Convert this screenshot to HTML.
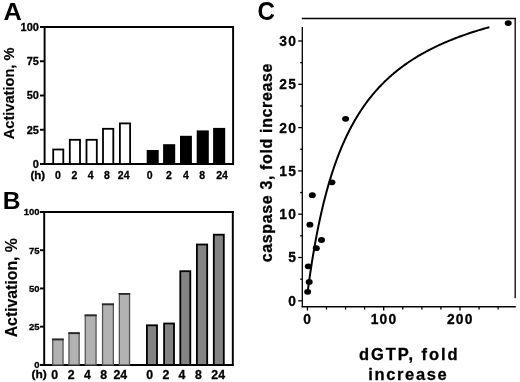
<!DOCTYPE html>
<html><head><meta charset="utf-8"><style>html,body{margin:0;padding:0;background:#fff;font-family:"Liberation Sans",sans-serif;width:520px;height:382px;overflow:hidden}svg{display:block;will-change:transform}</style></head>
<body><svg width="520" height="382" viewBox="0 0 520 382"><text transform="translate(3.50,19.60) scale(1.03,1.0)" font-family="Liberation Sans" font-weight="bold" stroke="#000" stroke-width="0" font-size="24.6" text-anchor="start" >A</text>
<line x1="40.00" y1="27.00" x2="234.00" y2="27.00" stroke="#000" stroke-width="1.95"/>
<line x1="44.60" y1="26.10" x2="44.60" y2="164.90" stroke="#000" stroke-width="1.95"/>
<line x1="233.10" y1="26.10" x2="233.10" y2="164.90" stroke="#000" stroke-width="1.95"/>
<line x1="40.00" y1="164.00" x2="234.00" y2="164.00" stroke="#000" stroke-width="1.95"/>
<line x1="40.00" y1="164.00" x2="44.60" y2="164.00" stroke="#000" stroke-width="1.95"/>
<text x="38.90" y="167.90" font-family="Liberation Sans" font-weight="bold" stroke="#000" stroke-width="0.3" font-size="11" text-anchor="end" >0</text>
<line x1="40.00" y1="129.75" x2="44.60" y2="129.75" stroke="#000" stroke-width="1.95"/>
<text x="38.90" y="133.65" font-family="Liberation Sans" font-weight="bold" stroke="#000" stroke-width="0.3" font-size="11" text-anchor="end" >25</text>
<line x1="40.00" y1="95.50" x2="44.60" y2="95.50" stroke="#000" stroke-width="1.95"/>
<text x="38.90" y="99.40" font-family="Liberation Sans" font-weight="bold" stroke="#000" stroke-width="0.3" font-size="11" text-anchor="end" >50</text>
<line x1="40.00" y1="61.25" x2="44.60" y2="61.25" stroke="#000" stroke-width="1.95"/>
<text x="38.90" y="65.15" font-family="Liberation Sans" font-weight="bold" stroke="#000" stroke-width="0.3" font-size="11" text-anchor="end" >75</text>
<line x1="40.00" y1="27.00" x2="44.60" y2="27.00" stroke="#000" stroke-width="1.95"/>
<text x="38.90" y="30.90" font-family="Liberation Sans" font-weight="bold" stroke="#000" stroke-width="0.3" font-size="11" text-anchor="end" >100</text>
<rect x="53.20" y="149.50" width="10.10" height="14.50" fill="#fff" stroke="#000" stroke-width="1.8"/>
<rect x="69.80" y="139.80" width="10.20" height="24.20" fill="#fff" stroke="#000" stroke-width="1.8"/>
<rect x="86.50" y="139.80" width="10.30" height="24.20" fill="#fff" stroke="#000" stroke-width="1.8"/>
<rect x="103.00" y="128.80" width="10.30" height="35.20" fill="#fff" stroke="#000" stroke-width="1.8"/>
<rect x="119.90" y="123.40" width="10.20" height="40.60" fill="#fff" stroke="#000" stroke-width="1.8"/>
<rect x="146.7" y="150.0" width="12.00" height="14.00" fill="#000"/>
<rect x="163.1" y="144.2" width="12.10" height="19.80" fill="#000"/>
<rect x="180.0" y="135.8" width="11.90" height="28.20" fill="#000"/>
<rect x="196.7" y="130.4" width="12.10" height="33.60" fill="#000"/>
<rect x="213.1" y="127.9" width="12.10" height="36.10" fill="#000"/>
<text transform="translate(30.50,178.90) scale(1.15,1.0)" font-family="Liberation Sans" font-weight="bold" stroke="#000" stroke-width="0.3" font-size="10" text-anchor="start" >(h)</text>
<text x="57.80" y="179.00" font-family="Liberation Sans" font-weight="bold" stroke="#000" stroke-width="0.3" font-size="10.5" text-anchor="middle" >0</text>
<text x="74.50" y="179.00" font-family="Liberation Sans" font-weight="bold" stroke="#000" stroke-width="0.3" font-size="10.5" text-anchor="middle" >2</text>
<text x="90.70" y="179.00" font-family="Liberation Sans" font-weight="bold" stroke="#000" stroke-width="0.3" font-size="10.5" text-anchor="middle" >4</text>
<text x="106.90" y="179.00" font-family="Liberation Sans" font-weight="bold" stroke="#000" stroke-width="0.3" font-size="10.5" text-anchor="middle" >8</text>
<text x="123.70" y="179.00" font-family="Liberation Sans" font-weight="bold" stroke="#000" stroke-width="0.3" font-size="10.5" text-anchor="middle" >24</text>
<text x="149.60" y="179.00" font-family="Liberation Sans" font-weight="bold" stroke="#000" stroke-width="0.3" font-size="10.5" text-anchor="middle" >0</text>
<text x="169.00" y="179.00" font-family="Liberation Sans" font-weight="bold" stroke="#000" stroke-width="0.3" font-size="10.5" text-anchor="middle" >2</text>
<text x="185.80" y="179.00" font-family="Liberation Sans" font-weight="bold" stroke="#000" stroke-width="0.3" font-size="10.5" text-anchor="middle" >4</text>
<text x="202.20" y="179.00" font-family="Liberation Sans" font-weight="bold" stroke="#000" stroke-width="0.3" font-size="10.5" text-anchor="middle" >8</text>
<text x="222.00" y="179.00" font-family="Liberation Sans" font-weight="bold" stroke="#000" stroke-width="0.3" font-size="10.5" text-anchor="middle" >24</text>
<text transform="translate(2.70,209.20) scale(1.0,1.0)" font-family="Liberation Sans" font-weight="bold" stroke="#000" stroke-width="0" font-size="24.6" text-anchor="start" >B</text>
<line x1="40.00" y1="212.00" x2="233.70" y2="212.00" stroke="#000" stroke-width="1.95"/>
<line x1="44.20" y1="211.10" x2="44.20" y2="365.80" stroke="#000" stroke-width="1.95"/>
<line x1="232.80" y1="211.10" x2="232.80" y2="365.80" stroke="#000" stroke-width="1.95"/>
<line x1="40.00" y1="364.90" x2="233.70" y2="364.90" stroke="#000" stroke-width="1.95"/>
<line x1="40.00" y1="364.90" x2="44.20" y2="364.90" stroke="#000" stroke-width="1.95"/>
<text x="39.60" y="368.20" font-family="Liberation Sans" font-weight="bold" stroke="#000" stroke-width="0.3" font-size="9.5" text-anchor="end" >0</text>
<line x1="40.00" y1="326.67" x2="44.20" y2="326.67" stroke="#000" stroke-width="1.95"/>
<text x="39.60" y="329.97" font-family="Liberation Sans" font-weight="bold" stroke="#000" stroke-width="0.3" font-size="9.5" text-anchor="end" >25</text>
<line x1="40.00" y1="288.45" x2="44.20" y2="288.45" stroke="#000" stroke-width="1.95"/>
<text x="39.60" y="291.75" font-family="Liberation Sans" font-weight="bold" stroke="#000" stroke-width="0.3" font-size="9.5" text-anchor="end" >50</text>
<line x1="40.00" y1="250.22" x2="44.20" y2="250.22" stroke="#000" stroke-width="1.95"/>
<text x="39.60" y="253.53" font-family="Liberation Sans" font-weight="bold" stroke="#000" stroke-width="0.3" font-size="9.5" text-anchor="end" >75</text>
<line x1="40.00" y1="212.00" x2="44.20" y2="212.00" stroke="#000" stroke-width="1.95"/>
<text x="39.60" y="215.30" font-family="Liberation Sans" font-weight="bold" stroke="#000" stroke-width="0.3" font-size="9.5" text-anchor="end" >100</text>
<rect x="52.75" y="339.25" width="10.30" height="25.65" fill="#b2b2b2" stroke="#555" stroke-width="1.3"/>
<line x1="52.10" y1="339.50" x2="63.70" y2="339.50" stroke="#2a2a2a" stroke-width="1.8"/>
<rect x="68.95" y="332.95" width="10.20" height="31.95" fill="#b2b2b2" stroke="#555" stroke-width="1.3"/>
<line x1="68.30" y1="333.20" x2="79.80" y2="333.20" stroke="#2a2a2a" stroke-width="1.8"/>
<rect x="85.25" y="315.15" width="10.80" height="49.75" fill="#b2b2b2" stroke="#555" stroke-width="1.3"/>
<line x1="84.60" y1="315.40" x2="96.70" y2="315.40" stroke="#2a2a2a" stroke-width="1.8"/>
<rect x="102.55" y="304.15" width="10.80" height="60.75" fill="#b2b2b2" stroke="#555" stroke-width="1.3"/>
<line x1="101.90" y1="304.40" x2="114.00" y2="304.40" stroke="#2a2a2a" stroke-width="1.8"/>
<rect x="119.35" y="293.65" width="10.20" height="71.25" fill="#b2b2b2" stroke="#555" stroke-width="1.3"/>
<line x1="118.70" y1="293.90" x2="130.20" y2="293.90" stroke="#2a2a2a" stroke-width="1.8"/>
<rect x="146.90" y="325.30" width="10.10" height="39.60" fill="#838383" stroke="#000" stroke-width="1.8"/>
<rect x="164.10" y="323.50" width="9.90" height="41.40" fill="#838383" stroke="#000" stroke-width="1.8"/>
<rect x="180.30" y="271.20" width="10.00" height="93.70" fill="#838383" stroke="#000" stroke-width="1.8"/>
<rect x="196.90" y="244.50" width="10.30" height="120.40" fill="#838383" stroke="#000" stroke-width="1.8"/>
<rect x="213.80" y="234.70" width="10.00" height="130.20" fill="#838383" stroke="#000" stroke-width="1.8"/>
<text transform="translate(31.50,378.20) scale(1.12,1.0)" font-family="Liberation Sans" font-weight="bold" stroke="#000" stroke-width="0.3" font-size="10.7" text-anchor="start" >(h)</text>
<text x="54.60" y="379.20" font-family="Liberation Sans" font-weight="bold" stroke="#000" stroke-width="0.3" font-size="12.3" text-anchor="middle" >0</text>
<text x="71.05" y="379.20" font-family="Liberation Sans" font-weight="bold" stroke="#000" stroke-width="0.3" font-size="12.3" text-anchor="middle" >2</text>
<text x="87.50" y="379.20" font-family="Liberation Sans" font-weight="bold" stroke="#000" stroke-width="0.3" font-size="12.3" text-anchor="middle" >4</text>
<text x="103.65" y="379.20" font-family="Liberation Sans" font-weight="bold" stroke="#000" stroke-width="0.3" font-size="12.3" text-anchor="middle" >8</text>
<text x="120.25" y="379.20" font-family="Liberation Sans" font-weight="bold" stroke="#000" stroke-width="0.3" font-size="12.3" text-anchor="middle" >24</text>
<text x="149.60" y="379.20" font-family="Liberation Sans" font-weight="bold" stroke="#000" stroke-width="0.3" font-size="12.3" text-anchor="middle" >0</text>
<text x="166.00" y="379.20" font-family="Liberation Sans" font-weight="bold" stroke="#000" stroke-width="0.3" font-size="12.3" text-anchor="middle" >2</text>
<text x="182.00" y="379.20" font-family="Liberation Sans" font-weight="bold" stroke="#000" stroke-width="0.3" font-size="12.3" text-anchor="middle" >4</text>
<text x="198.50" y="379.20" font-family="Liberation Sans" font-weight="bold" stroke="#000" stroke-width="0.3" font-size="12.3" text-anchor="middle" >8</text>
<text x="218.20" y="379.20" font-family="Liberation Sans" font-weight="bold" stroke="#000" stroke-width="0.3" font-size="12.3" text-anchor="middle" >24</text>
<text transform="translate(14.0,93.4) rotate(-90)" font-family="Liberation Sans" font-weight="bold" stroke="#000" stroke-width="0.15" font-size="14.6" text-anchor="middle">Activation, %</text>
<text transform="translate(16.5,287.7) rotate(-90)" font-family="Liberation Sans" font-weight="bold" stroke="#000" stroke-width="0.15" font-size="15.8" text-anchor="middle">Activation, %</text>
<text transform="translate(257.40,19.90) scale(0.95,1.0)" font-family="Liberation Sans" font-weight="bold" stroke="#000" stroke-width="0" font-size="25.4" text-anchor="start" >C</text>
<line x1="301.80" y1="18.50" x2="515.90" y2="18.50" stroke="#000" stroke-width="1.5"/>
<line x1="515.20" y1="17.90" x2="515.20" y2="298.20" stroke="#000" stroke-width="1.3"/>
<line x1="302.30" y1="27.00" x2="302.30" y2="307.20" stroke="#000" stroke-width="1.3"/>
<line x1="301.65" y1="306.70" x2="515.80" y2="306.70" stroke="#000" stroke-width="1.6"/>
<line x1="298.20" y1="300.80" x2="302.30" y2="300.80" stroke="#000" stroke-width="1.3"/>
<text x="297.10" y="305.75" font-family="Liberation Sans" font-weight="bold" stroke="#000" stroke-width="0.3" font-size="13.8" text-anchor="end" letter-spacing="1.2">0</text>
<line x1="300.20" y1="279.15" x2="302.30" y2="279.15" stroke="#000" stroke-width="1.3"/>
<line x1="298.20" y1="257.50" x2="302.30" y2="257.50" stroke="#000" stroke-width="1.3"/>
<text x="297.10" y="262.45" font-family="Liberation Sans" font-weight="bold" stroke="#000" stroke-width="0.3" font-size="13.8" text-anchor="end" letter-spacing="1.2">5</text>
<line x1="300.20" y1="235.85" x2="302.30" y2="235.85" stroke="#000" stroke-width="1.3"/>
<line x1="298.20" y1="214.20" x2="302.30" y2="214.20" stroke="#000" stroke-width="1.3"/>
<text x="297.10" y="219.15" font-family="Liberation Sans" font-weight="bold" stroke="#000" stroke-width="0.3" font-size="13.8" text-anchor="end" letter-spacing="1.2">10</text>
<line x1="300.20" y1="192.55" x2="302.30" y2="192.55" stroke="#000" stroke-width="1.3"/>
<line x1="298.20" y1="170.90" x2="302.30" y2="170.90" stroke="#000" stroke-width="1.3"/>
<text x="297.10" y="175.85" font-family="Liberation Sans" font-weight="bold" stroke="#000" stroke-width="0.3" font-size="13.8" text-anchor="end" letter-spacing="1.2">15</text>
<line x1="300.20" y1="149.25" x2="302.30" y2="149.25" stroke="#000" stroke-width="1.3"/>
<line x1="298.20" y1="127.60" x2="302.30" y2="127.60" stroke="#000" stroke-width="1.3"/>
<text x="297.10" y="132.55" font-family="Liberation Sans" font-weight="bold" stroke="#000" stroke-width="0.3" font-size="13.8" text-anchor="end" letter-spacing="1.2">20</text>
<line x1="300.20" y1="105.95" x2="302.30" y2="105.95" stroke="#000" stroke-width="1.3"/>
<line x1="298.20" y1="84.30" x2="302.30" y2="84.30" stroke="#000" stroke-width="1.3"/>
<text x="297.10" y="89.25" font-family="Liberation Sans" font-weight="bold" stroke="#000" stroke-width="0.3" font-size="13.8" text-anchor="end" letter-spacing="1.2">25</text>
<line x1="300.20" y1="62.65" x2="302.30" y2="62.65" stroke="#000" stroke-width="1.3"/>
<line x1="298.20" y1="41.00" x2="302.30" y2="41.00" stroke="#000" stroke-width="1.3"/>
<text x="297.10" y="45.95" font-family="Liberation Sans" font-weight="bold" stroke="#000" stroke-width="0.3" font-size="13.8" text-anchor="end" letter-spacing="1.2">30</text>
<line x1="307.40" y1="306.60" x2="307.40" y2="310.60" stroke="#000" stroke-width="1.3"/>
<text x="307.70" y="324.00" font-family="Liberation Sans" font-weight="bold" stroke="#000" stroke-width="0.3" font-size="13.8" text-anchor="middle" letter-spacing="1.2">0</text>
<line x1="326.47" y1="306.60" x2="326.47" y2="309.60" stroke="#000" stroke-width="1.3"/>
<line x1="345.55" y1="306.60" x2="345.55" y2="309.60" stroke="#000" stroke-width="1.3"/>
<line x1="364.62" y1="306.60" x2="364.62" y2="309.60" stroke="#000" stroke-width="1.3"/>
<line x1="383.70" y1="306.60" x2="383.70" y2="310.60" stroke="#000" stroke-width="1.3"/>
<text x="384.00" y="324.00" font-family="Liberation Sans" font-weight="bold" stroke="#000" stroke-width="0.3" font-size="13.8" text-anchor="middle" letter-spacing="1.2">100</text>
<line x1="402.77" y1="306.60" x2="402.77" y2="309.60" stroke="#000" stroke-width="1.3"/>
<line x1="421.85" y1="306.60" x2="421.85" y2="309.60" stroke="#000" stroke-width="1.3"/>
<line x1="440.92" y1="306.60" x2="440.92" y2="309.60" stroke="#000" stroke-width="1.3"/>
<line x1="460.00" y1="306.60" x2="460.00" y2="310.60" stroke="#000" stroke-width="1.3"/>
<text x="460.30" y="324.00" font-family="Liberation Sans" font-weight="bold" stroke="#000" stroke-width="0.3" font-size="13.8" text-anchor="middle" letter-spacing="1.2">200</text>
<line x1="479.07" y1="306.60" x2="479.07" y2="309.60" stroke="#000" stroke-width="1.3"/>
<line x1="498.15" y1="306.60" x2="498.15" y2="309.60" stroke="#000" stroke-width="1.3"/>
<text transform="translate(271.9,162.6) rotate(-90)" font-family="Liberation Sans" font-weight="bold" stroke="#000" stroke-width="0.3" font-size="16" text-anchor="middle" letter-spacing="0.64">caspase 3, fold increase</text>
<text x="409.27" y="359.80" font-family="Liberation Sans" font-weight="bold" stroke="#000" stroke-width="0.3" font-size="16.5" text-anchor="middle" letter-spacing="1.95">dGTP, fold</text>
<text x="408.32" y="379.80" font-family="Liberation Sans" font-weight="bold" stroke="#000" stroke-width="0.3" font-size="16.5" text-anchor="middle" letter-spacing="1.65">increase</text>
<polyline points="307.40,293.87 307.78,290.95 308.16,288.07 308.54,285.25 308.93,282.47 309.31,279.75 309.69,277.07 310.07,274.43 310.45,271.84 310.83,269.29 311.21,266.79 311.60,264.32 311.98,261.89 312.36,259.51 312.74,257.16 313.12,254.85 313.50,252.57 313.89,250.33 314.27,248.13 314.65,245.96 315.03,243.82 315.79,239.64 316.56,235.58 317.32,231.64 318.08,227.82 318.84,224.10 319.61,220.48 320.37,216.97 321.13,213.55 321.90,210.22 322.66,206.98 323.42,203.83 324.19,200.75 324.95,197.76 325.71,194.83 326.47,191.99 327.24,189.21 328.00,186.49 328.76,183.85 329.53,181.26 330.29,178.74 331.05,176.27 331.82,173.86 332.58,171.51 333.34,169.20 334.10,166.95 334.87,164.75 335.63,162.59 336.39,160.48 337.16,158.42 337.92,156.39 338.68,154.41 339.45,152.47 340.21,150.57 340.97,148.71 341.73,146.88 342.50,145.10 343.26,143.34 344.02,141.62 344.79,139.93 345.55,138.28 346.31,136.65 347.08,135.06 347.84,133.49 348.60,131.95 349.37,130.44 350.13,128.96 350.89,127.51 351.65,126.07 352.42,124.67 353.18,123.29 353.94,121.93 354.71,120.60 355.47,119.28 356.23,117.99 357.00,116.73 357.76,115.48 358.52,114.25 359.28,113.04 360.05,111.85 360.81,110.68 361.57,109.53 362.34,108.40 363.10,107.29 363.86,106.19 364.62,105.11 365.39,104.04 366.15,102.99 366.91,101.96 367.68,100.94 368.44,99.94 369.20,98.95 369.97,97.98 370.73,97.02 371.49,96.07 372.25,95.14 373.02,94.22 373.78,93.31 374.54,92.42 375.31,91.54 376.07,90.67 376.83,89.81 377.60,88.96 378.36,88.13 379.12,87.30 379.88,86.49 380.65,85.69 381.41,84.90 382.17,84.12 382.94,83.35 383.70,82.59 384.46,81.83 385.23,81.09 385.99,80.36 386.75,79.64 387.51,78.92 388.28,78.22 389.04,77.52 389.80,76.83 390.57,76.15 391.33,75.48 392.09,74.82 392.86,74.16 393.62,73.51 394.38,72.87 395.14,72.24 395.91,71.61 396.67,70.99 397.43,70.38 398.20,69.78 398.96,69.18 399.72,68.59 400.49,68.01 401.25,67.43 402.01,66.86 402.77,66.29 403.54,65.74 404.30,65.18 405.06,64.64 405.83,64.10 406.59,63.56 407.35,63.03 408.12,62.51 408.88,61.99 409.64,61.48 410.40,60.97 411.17,60.47 411.93,59.98 412.69,59.49 413.46,59.00 414.22,58.52 414.98,58.04 415.75,57.57 416.51,57.10 417.27,56.64 418.03,56.18 418.80,55.73 419.56,55.28 420.32,54.84 421.09,54.40 421.85,53.96 422.61,53.53 423.38,53.10 424.14,52.68 424.90,52.26 425.66,51.85 426.43,51.44 427.19,51.03 427.95,50.63 428.72,50.23 429.48,49.83 430.24,49.44 431.01,49.05 431.77,48.66 432.53,48.28 433.29,47.90 434.06,47.53 434.82,47.16 435.58,46.79 436.35,46.43 437.11,46.06 437.87,45.71 438.64,45.35 439.40,45.00 440.16,44.65 440.92,44.30 441.69,43.96 442.45,43.62 443.21,43.28 443.98,42.95 444.74,42.62 445.50,42.29 446.27,41.96 447.03,41.64 447.79,41.32 448.55,41.00 449.32,40.69 450.08,40.37 450.84,40.06 451.61,39.76 452.37,39.45 453.13,39.15 453.90,38.85 454.66,38.55 455.42,38.26 456.18,37.96 456.95,37.67 457.71,37.38 458.47,37.10 459.24,36.81 460.00,36.53 460.76,36.25 461.53,35.98 462.29,35.70 463.05,35.43 463.81,35.16 464.58,34.89 465.34,34.62 466.10,34.36 466.87,34.09 467.63,33.83 468.39,33.57 469.16,33.32 469.92,33.06 470.68,32.81 471.44,32.56 472.21,32.31 472.97,32.06 473.73,31.82 474.50,31.57 475.26,31.33 476.02,31.09 476.79,30.85 477.55,30.61 478.31,30.38 479.07,30.15 479.84,29.91 480.60,29.68 481.36,29.45 482.13,29.23 482.89,29.00 483.65,28.78 484.42,28.56 485.18,28.34 485.94,28.12 486.70,27.90 487.47,27.68 488.23,27.47 489.38,27.15" fill="none" stroke="#000" stroke-width="2" stroke-linejoin="round"/>
<ellipse cx="508.2" cy="23.1" rx="3.5" ry="2.9" fill="#000"/>
<ellipse cx="345.6" cy="118.8" rx="3.5" ry="2.9" fill="#000"/>
<ellipse cx="331.9" cy="182.3" rx="3.5" ry="2.9" fill="#000"/>
<ellipse cx="312.3" cy="195.2" rx="3.5" ry="2.9" fill="#000"/>
<ellipse cx="309.9" cy="224.7" rx="3.5" ry="2.9" fill="#000"/>
<ellipse cx="321.5" cy="240" rx="3.5" ry="2.9" fill="#000"/>
<ellipse cx="316.3" cy="248.2" rx="3.5" ry="2.9" fill="#000"/>
<ellipse cx="308.3" cy="266.3" rx="3.5" ry="2.9" fill="#000"/>
<ellipse cx="309.2" cy="282" rx="3.5" ry="2.9" fill="#000"/>
<ellipse cx="307.65" cy="291.85" rx="3.5" ry="2.9" fill="#000"/></svg></body></html>
